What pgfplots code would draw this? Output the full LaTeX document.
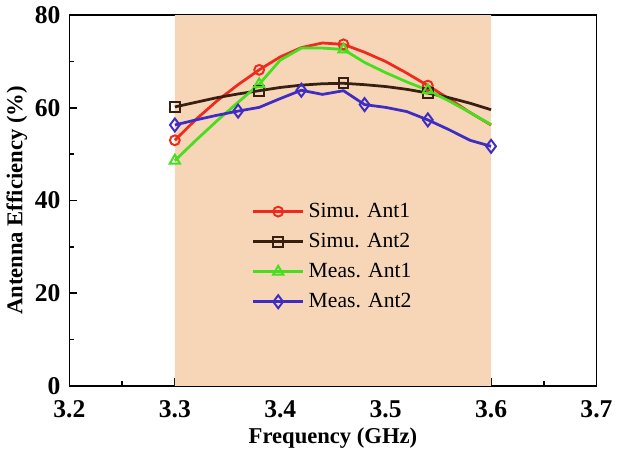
\documentclass[border=0pt]{standalone}
\usepackage{fontspec}
\setmainfont{Liberation Serif}
\usepackage{pgfplots}
\pgfplotsset{compat=1.18}

\definecolor{band}{RGB}{246,214,182}
\definecolor{simuone}{RGB}{238,42,30}
\definecolor{simutwo}{RGB}{55,32,18}
\definecolor{measone}{RGB}{70,222,30}
\definecolor{meastwo}{RGB}{62,44,196}

\begin{document}
\begin{tikzpicture}
\begin{axis}[
  scale only axis,
  width=268pt, height=188.5pt,
  xmin=3.2, xmax=3.7, ymin=0, ymax=80,
  xtick={3.2,3.3,...,3.7}, ytick={0,20,...,80},
  minor x tick num=1, minor y tick num=1,
  tick pos=left, tick align=inside,
  major tick length=4pt, minor tick length=2.5pt,
  axis line style={line width=0.8pt},
  every tick/.style={black,line width=0.8pt},
  /pgf/number format/assume math mode=true,
  /pgf/number format/fixed, /pgf/number format/precision=1,
  xticklabel style={font=\fontsize{13}{14}\selectfont\bfseries, yshift=-4pt},
  yticklabel style={font=\fontsize{13}{14}\selectfont\bfseries, xshift=-1pt},
  xlabel={Frequency (GHz)}, ylabel={Antenna Efficiency (\%)},
  label style={font=\fontsize{11.5}{12}\selectfont\bfseries},
  xlabel style={yshift=2pt}, ylabel style={yshift=-3pt},
  legend style={at={(0.345,0.505)}, anchor=north west, draw=none, fill=none,
    font=\fontsize{11}{13}\selectfont, row sep=2.5pt, inner sep=0pt},
  legend cell align=left,
  legend image code/.code={
    \draw[mark indices={2}] plot coordinates {(0cm,0cm) (0.45cm,0cm) (0.9cm,0cm)};},
]
% shaded band 3.3 - 3.6 GHz
\addplot[fill=band, draw=none, forget plot] coordinates {(3.3,0) (3.3,80) (3.6,80) (3.6,0)} \closedcycle;

% Simu. Ant1
\addplot[simuone, line width=1.4pt, mark=o, mark size=2.5pt, mark options={solid,line width=1pt}, mark indices={1,5,9,13}] coordinates {
 (3.30,53.0) (3.32,57.5) (3.34,61.5) (3.36,65.0) (3.38,68.2) (3.40,71.0)
 (3.42,73.0) (3.44,74.0) (3.46,73.7) (3.48,72.0) (3.50,70.0) (3.52,67.5)
 (3.54,64.8) (3.56,62.0) (3.58,59.0) (3.60,56.3)};
% Simu. Ant2
\addplot[simutwo, line width=1.4pt, mark=square, mark size=2.5pt, mark options={solid,line width=1pt}, mark indices={1,5,9,13}] coordinates {
 (3.30,60.2) (3.32,61.2) (3.34,62.2) (3.36,63.0) (3.38,63.7) (3.40,64.4)
 (3.42,64.9) (3.44,65.2) (3.46,65.3) (3.48,65.0) (3.50,64.6) (3.52,64.0)
 (3.54,63.2) (3.56,62.2) (3.58,61.0) (3.60,59.6)};
% Meas. Ant1
\addplot[measone, line width=1.4pt, mark=triangle, mark size=3pt, mark options={solid,line width=1pt}, mark indices={1,5,9,13}] coordinates {
 (3.30,48.6) (3.32,53.0) (3.34,57.2) (3.36,61.2) (3.38,65.1) (3.40,70.3)
 (3.42,72.9) (3.44,72.9) (3.46,72.6) (3.48,69.8) (3.50,67.6) (3.52,65.6)
 (3.54,63.8) (3.56,61.5) (3.58,59.0) (3.60,56.4)};
% Meas. Ant2
\addplot[meastwo, line width=1.4pt, mark=diamond, mark size=3.3pt, mark options={solid,line width=1pt}, mark indices={1,4,7,10,13,16}] coordinates {
 (3.30,56.3) (3.32,57.4) (3.34,58.4) (3.36,59.3) (3.38,60.1) (3.40,62.0)
 (3.42,63.8) (3.44,62.9) (3.46,63.7) (3.48,60.7) (3.50,60.1) (3.52,59.2)
 (3.54,57.4) (3.56,55.3) (3.58,53.0) (3.60,51.7)};
\legend{Simu. Ant1, Simu. Ant2, Meas. Ant1, Meas. Ant2}
\end{axis}
\end{tikzpicture}
\end{document}
